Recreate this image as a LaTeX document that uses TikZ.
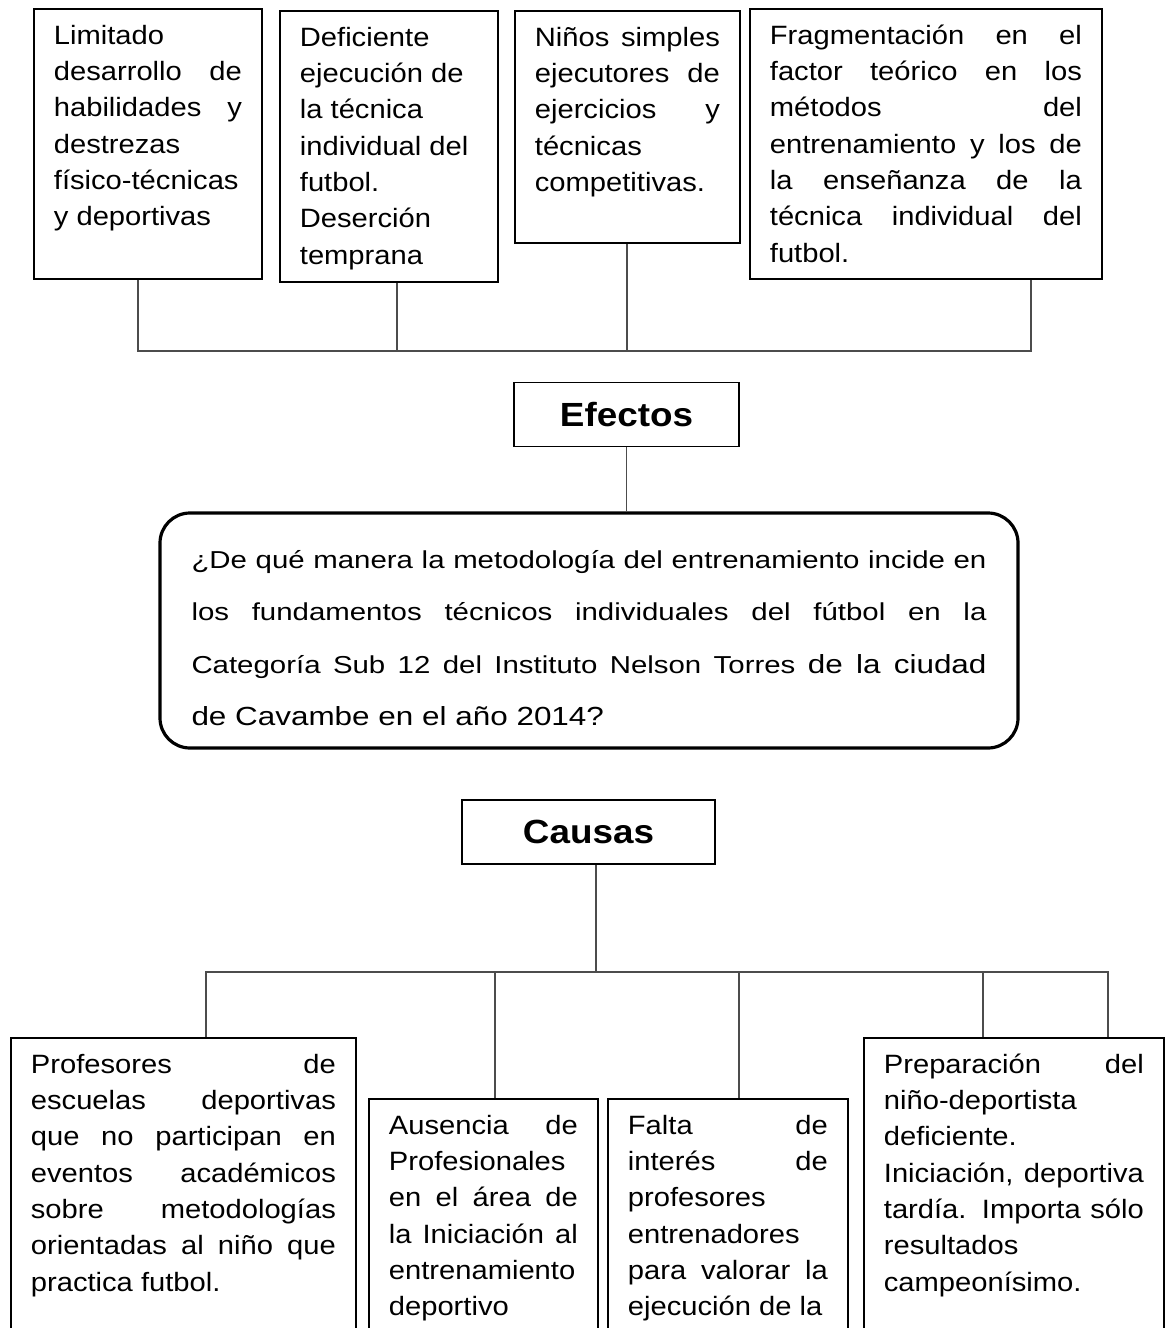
\documentclass[tikz,border=0pt]{standalone}
\usepackage{fontspec}
\setmainfont{Liberation Sans}[FakeStretch=1.1]
\newfontfamily\fuentepreg{Liberation Sans}[FakeStretch=1.2]
\newcommand{\cajatexto}[3]{\parbox[t][#2pt][t]{#1pt}{\strut #3}}
\hyphenpenalty=10000
\exhyphenpenalty=10000
\begin{document}
\begin{tikzpicture}[x=1pt,y=-1pt,
  caja/.style={draw,line width=1.8pt,anchor=north west,inner xsep=20pt,inner ysep=10pt,
    font=\fontsize{26.5}{36.3}\selectfont},
  titulo/.style={draw,line width=1.8pt,minimum height=64pt,font=\fontsize{33.5}{40}\selectfont\bfseries},
  pregunta/.style={draw,line width=3.2pt,rounded corners=30pt,minimum width=858pt,minimum height=235pt,
    text width=795pt,align=justify,font=\fuentepreg\fontsize{24.5}{52.5}\selectfont},
  linea/.style={line width=1.5pt,black!70}]
\useasboundingbox (0,0) rectangle (1168,1328);
\clip (0,0) rectangle (1168,1328);
% efectos
\node[caja] (ef1) at (33,8) {\cajatexto{188}{250}{Limitado\newline desarrollo de\linebreak habilidades y\linebreak destrezas\newline físico-técnicas\newline y deportivas}};
\node[caja] (ef2) at (279,10) {\cajatexto{178}{251}{Deficiente\newline ejecución de\newline la técnica\newline individual del\newline futbol.\newline Deserción\newline temprana}};
\node[caja] (ef3) at (514,10) {\cajatexto{185}{212}{Niños simples\linebreak ejecutores de\linebreak ejercicios y\linebreak técnicas\newline competitivas.}};
\node[caja] (ef4) at (749,8) {\cajatexto{312}{250}{Fragmentación en el\linebreak factor teórico en los\linebreak métodos del\linebreak entrenamiento y los de\linebreak la enseñanza de la\linebreak técnica individual del\linebreak futbol.}};
\coordinate (ja) at (138,351);
\coordinate (jb) at (397,351);
\coordinate (jc) at (627,351);
\coordinate (jd) at (1031,351);
\draw[linea] (ef1.south -| ja) -- (ja) -- (jd) -- (ef4.south -| jd);
\draw[linea] (ef2.south -| jb) -- (jb);
\draw[linea] (ef3.south -| jc) -- (jc);
\node[titulo,minimum width=225pt] (efectos) at (626.5,414.5) {Efectos};
% problema
\node[pregunta] (preg) at (589,630.5) {\rule{0pt}{33pt}¿De qué manera la metodología del entrenamiento incide en\linebreak los fundamentos técnicos individuales del fútbol en la\linebreak Categoría Sub 12 del Instituto Nelson Torres {\fontsize{26.2}{52.5}\selectfont de la ciudad\linebreak de Cavambe en el año 2014?}};
\draw[linea] (efectos.south) -- (efectos.south |- preg.north);
% causas
\node[titulo,minimum width=253pt] (causas) at (588.5,832) {Causas};
\coordinate (kc) at (596,972);
\coordinate (k1) at (206,972);
\coordinate (k2) at (495,972);
\coordinate (k3) at (739,972);
\coordinate (k4) at (983,972);
\coordinate (k5) at (1108,972);
\node[caja] (ca1) at (10,1037) {\cajatexto{305}{400}{Profesores de\linebreak escuelas deportivas\linebreak que no participan en\linebreak eventos académicos\linebreak sobre metodologías\linebreak orientadas al niño que\linebreak practica futbol.}};
\node[caja] (ca2) at (368,1098) {\cajatexto{189}{400}{Ausencia de\linebreak Profesionales\newline en el área de\linebreak la Iniciación al\linebreak entrenamiento\newline deportivo}};
\node[caja] (ca3) at (607,1098) {\cajatexto{200}{400}{Falta de\linebreak interés de\linebreak profesores\newline entrenadores\newline para valorar la\linebreak ejecución de la}};
\node[caja] (ca4) at (863,1037) {\cajatexto{260}{400}{Preparación del\linebreak niño-deportista\newline deficiente.\newline Iniciación, deportiva\linebreak tardía. Importa sólo\linebreak resultados\newline campeonísimo.}};
\draw[linea] (causas.south -| kc) -- (kc);
\draw[linea] (ca1.north -| k1) -- (k1) -- (k5) -- (ca4.north -| k5);
\draw[linea] (k2) -- (ca2.north -| k2);
\draw[linea] (k3) -- (ca3.north -| k3);
\draw[linea] (k4) -- (ca4.north -| k4);
\end{tikzpicture}
\end{document}
